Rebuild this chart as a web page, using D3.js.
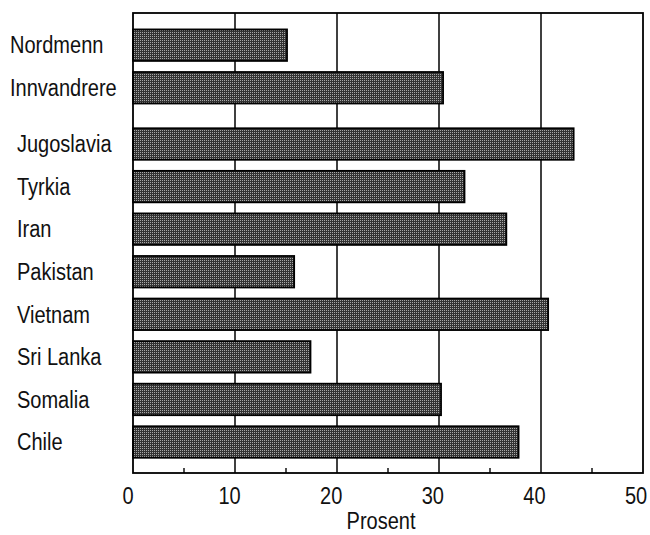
<!DOCTYPE html>
<html>
<head>
<meta charset="utf-8">
<script src="https://cdn.jsdelivr.net/npm/d3@7"></script>
<style>
  html, body { margin: 0; padding: 0; background: #fff; }
  svg text { font-family: "Liberation Sans", Arial, Helvetica, sans-serif; fill: #111; }
</style>
</head>
<body>
<svg id="chart" width="650" height="535"></svg>
<script>
const categories = ["Nordmenn", "Innvandrere", "Jugoslavia", "Tyrkia", "Iran", "Pakistan", "Vietnam", "Sri Lanka", "Somalia", "Chile"];
const values = [15.1, 30.4, 43.2, 32.5, 36.6, 15.8, 40.7, 17.4, 30.2, 37.8];
const groups = [0, 0, 1, 1, 1, 1, 1, 1, 1, 1];
const majorTicks = [0, 10, 20, 30, 40, 50];
const minorTicks = [5, 15, 25, 35, 45];
const xTitle = "Prosent";

const svg = d3.select("#chart");
const mLeft = 133, mRight = 643, mTop = 13, mBottom = 473;
const step = 42.57;
const groupGap = 13.7;
const squeeze = 0.87;

const x = d3.scaleLinear().domain([0, 50]).range([mLeft, mRight]);
const yStart = 37.6;
const y = d3.scaleBand().domain(categories)
  .range([yStart, yStart + step * categories.length])
  .paddingInner(0.26).paddingOuter(0.13);

const yPos = (d, i) => y(d) - (groups[i] === 0 ? groupGap : 0);

// pattern for halftone-like fill
const defs = svg.append("defs");
const pat = defs.append("pattern").attr("id", "dots")
  .attr("width", 2).attr("height", 2).attr("patternUnits", "userSpaceOnUse");
pat.append("rect").attr("width", 2).attr("height", 2).attr("fill", "#333");
pat.append("rect").attr("width", 1).attr("height", 1).attr("fill", "#a8a8a8");

// gridlines
svg.append("g").selectAll("line").data(majorTicks.filter(t => t > 0 && t < 50)).join("line")
  .attr("x1", d => x(d)).attr("x2", d => x(d))
  .attr("y1", mTop).attr("y2", mBottom)
  .attr("stroke", "#000").attr("stroke-width", 1.5);

// minor ticks at bottom
svg.append("g").selectAll("line").data(minorTicks).join("line")
  .attr("x1", d => x(d)).attr("x2", d => x(d))
  .attr("y1", mBottom).attr("y2", mBottom - 5)
  .attr("stroke", "#000").attr("stroke-width", 1.4);

// bars
svg.append("g").selectAll("rect").data(categories).join("rect")
  .attr("x", x(0))
  .attr("y", (d, i) => yPos(d, i))
  .attr("width", (d, i) => x(values[i]) - x(0))
  .attr("height", y.bandwidth())
  .attr("fill", "url(#dots)")
  .attr("stroke", "#000").attr("stroke-width", 1.8);

// frame
svg.append("rect").attr("x", mLeft).attr("y", mTop)
  .attr("width", mRight - mLeft).attr("height", mBottom - mTop)
  .attr("fill", "none").attr("stroke", "#000").attr("stroke-width", 1.8);

// category labels (condensed)
svg.append("g").selectAll("text").data(categories).join("text")
  .attr("transform", (d, i) => `translate(${groups[i] === 0 ? 10 : 17},${yPos(d, i) + y.bandwidth() / 2}) scale(${squeeze},1)`)
  .attr("dy", "0.36em")
  .attr("font-size", 23)
  .text(d => d);

// x tick labels
svg.append("g").selectAll("text").data(majorTicks).join("text")
  .attr("transform", d => `translate(${x(d) - 5 - d / 25},504) scale(${squeeze},1)`)
  .attr("text-anchor", "middle")
  .attr("font-size", 23)
  .text(d => d);

// axis title
svg.append("text")
  .attr("transform", `translate(381,529) scale(${squeeze},1)`)
  .attr("text-anchor", "middle")
  .attr("font-size", 23)
  .text(xTitle);
</script>
</body>
</html>
